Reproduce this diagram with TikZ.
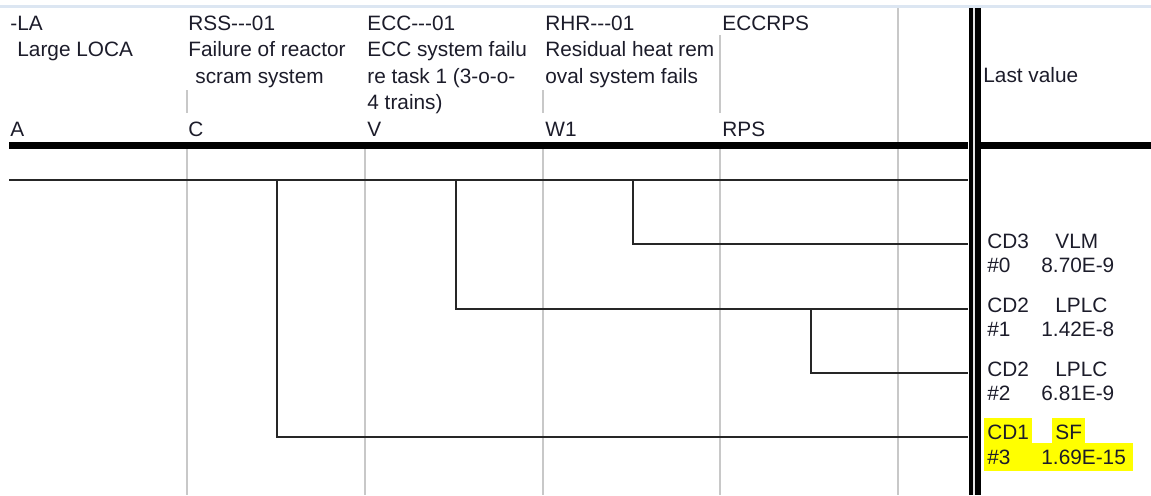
\documentclass[tikz,border=0pt]{standalone}
\usepackage{fontspec}
\setmainfont{Liberation Sans}
\usetikzlibrary{positioning}
\definecolor{ink}{HTML}{1C1C2A}
\definecolor{band}{HTML}{DCE6F2}
\definecolor{gline}{HTML}{C8C8C8}
\definecolor{branch}{HTML}{262626}
\definecolor{hilite}{HTML}{FFFF00}

\begin{document}
\begin{tikzpicture}[x=0.5pt, y=-0.5pt, font=\fontsize{10.4}{13.3}\selectfont,
    lbl/.style={anchor=base west, inner sep=0pt, text=ink, align=left},
    val/.style={anchor=base west, inner sep=0pt, text=ink},
    hl/.style={val, fill=hilite, inner xsep=1.5pt},
    tree/.style={branch, line width=0.9pt}]
  \useasboundingbox (0,0) rectangle (1151,495);
  % title bar edge and column rules
  \fill[band] (0,4.5) rectangle (1151,8);
  \foreach \x in {187,365,543,720,898}
    \draw[gline, line width=0.8pt] (\x,149) -- (\x,495);
  \foreach \x/\ya/\yb in {187/90/113, 543/90/113, 720/35/113, 898/8/142}
    \draw[gline, line width=0.8pt] (\x,\ya) -- (\x,\yb);
  % heading: event, description, tag  (base = last line, 26.6 per line)
  \foreach \n/\x/\nl/\head in {A/10/2/{-LA\\\hspace*{3.5pt}Large LOCA},
                               C/188/3/{RSS-{}-{}-01\\Failure of reactor\\\hspace*{3.5pt}scram system},
                               V/367/4/{ECC-{}-{}-01\\ECC system failu\\re task 1 (3-o-o-\\4 trains)},
                               W1/545/3/{RHR-{}-{}-01\\Residual heat rem\\oval system fails},
                               RPS/722/1/{ECCRPS}}{
    \node[lbl] (head\n) at (\x,{30+26.6*(\nl-1)}) {\head};
    \node[lbl] (tag\n) at (\x,136.5) {\n};}
  \node[lbl] (lastval) at (983,82) {Last value};
  % thick rule and double bar
  \draw[black, line width=3.5pt] (9,145.5) -- (968,145.5) (981,145.5) -- (1151,145.5);
  \fill[black] (968.5,8) rectangle (980.5,495);
  \draw[gray!20, line width=1pt] (974,8) -- (974,495);
  % event tree
  \coordinate (root) at (9,180);
  \coordinate (rootend) at (968,180);
  \draw[tree] (root) -- (rootend);
  \foreach \i/\bx/\by/\ey in {0/633/180/244, 1/456/180/309, 2/811/309/373, 3/277/180/437}{
    \coordinate (fork\i) at (\bx,\by);
    \coordinate (end\i) at (968,\ey);
    \draw[tree] (fork\i) |- (end\i);}
  % end states
  \foreach \i/\y/\cd/\sq/\p in {0/248/CD3/VLM/8.70E-9, 1/312/CD2/LPLC/1.42E-8,
                                2/376/CD2/LPLC/6.81E-9}{
    \node[val] (cd\i) at (987,\y) {\cd};
    \node[val] (sq\i) at (1055,\y) {\sq};
    \node[val] (no\i) at (987,\y+24) {\#\i};
    \node[val] (pr\i) at (1041,\y+24) {\p};}
  % highlighted sequence
  \node[hl, text height=11pt, text depth=1.8pt] (cd3) at (984,439.5) {CD1};
  \node[hl, text height=11pt, text depth=1.8pt] (sq3) at (1052,439.5) {SF};
  \node[hl, text height=10.5pt, text depth=3.4pt, text width=71.5pt] (no3) at (984,464) {\#3};
  \node[hl, text height=10.5pt, text depth=3.4pt] (pr3) at (1038,464) {1.69E-15};
\end{tikzpicture}
\end{document}
